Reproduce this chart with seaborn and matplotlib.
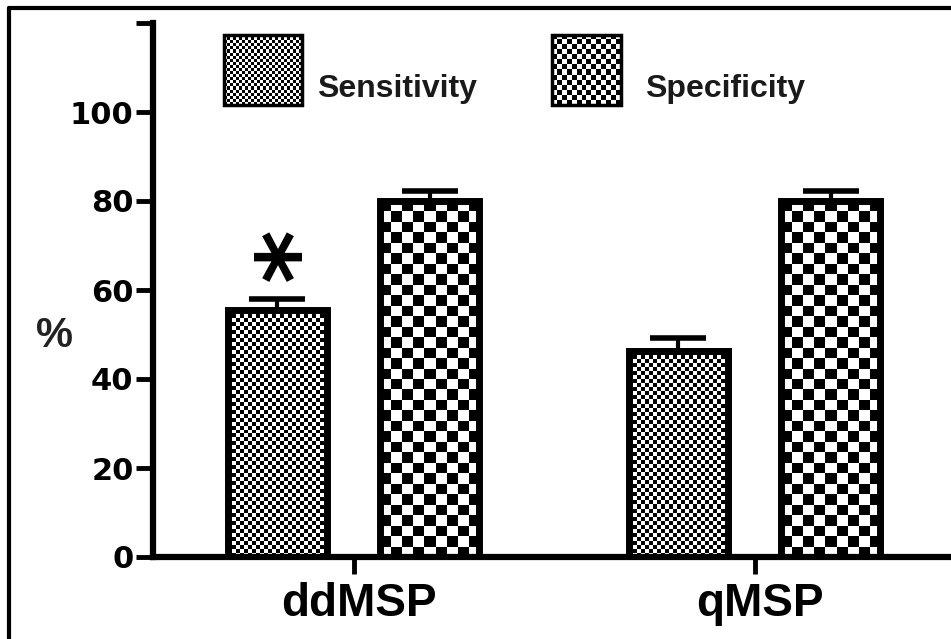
import numpy as np
import pandas as pd
import matplotlib
matplotlib.use('Agg')
import matplotlib.pyplot as plt
import seaborn as sns
from matplotlib.patches import Rectangle
from matplotlib.legend_handler import HandlerBase
from matplotlib.image import BboxImage
from matplotlib.transforms import Bbox, TransformedBbox, ScaledTranslation
from matplotlib.colors import Normalize
from matplotlib.lines import Line2D

# data
methods = ['ddMSP', 'qMSP']
measures = ['Sensitivity', 'Specificity']
sensitivity = [55.5, 46.2]
specificity = [80.0, 80.0]
sens_err = [2.5, 3.0]
spec_err = [2.3, 2.3]
yticks = [0, 20, 40, 60, 80, 100, 120]
ytick_labels = ['0', '20', '40', '60', '80', '100', '']

df = pd.DataFrame({
    'method': methods * 2,
    'measure': ['Sensitivity'] * 2 + ['Specificity'] * 2,
    'value': sensitivity + specificity,
})
errs = sens_err + spec_err

# checker cell size (pixels) for each pattern
bar_cells = {'Sensitivity': 4, 'Specificity': 10.5}
legend_cells = {'Sensitivity': 3, 'Specificity': 5}


def checker(ny, nx):
    return (np.add.outer(np.arange(ny), np.arange(nx)) % 2).astype(float)


sns.set_style('ticks')
plt.rcParams['font.family'] = ['Liberation Sans', 'DejaVu Sans']
plt.rcParams.update({'axes.edgecolor': 'black', 'text.color': 'black',
                     'axes.labelcolor': 'black', 'xtick.color': 'black',
                     'ytick.color': 'black'})

fig = plt.figure(figsize=(9.51, 6.39), dpi=100)
ax = fig.add_axes([153 / 951, 82 / 639, 1 - 153 / 951, 534 / 639])

sns.barplot(data=df, x='method', y='value', hue='measure', order=methods,
            hue_order=measures, palette=['white', 'white'], width=0.76, gap=0.35,
            edgecolor='black', linewidth=5, saturation=1, legend=False, ax=ax, zorder=3)

ax.set_xlim(-0.5, 1.49)
ax.set_ylim(0, 120)

# checker fill + upper error bars for each bar
for patch, meas, err in zip(ax.patches, df['measure'], errs):
    patch.set_facecolor('none')
    x0, w, h = patch.get_x(), patch.get_width(), patch.get_height()
    bb = patch.get_window_extent()
    nx = max(1, int(round(bb.width / bar_cells[meas])))
    ny = max(1, int(round(bb.height / bar_cells[meas])))
    ax.imshow(checker(ny, nx), extent=(x0, x0 + w, 0, h), cmap='gray', vmin=0, vmax=1,
              interpolation='nearest', aspect='auto', zorder=2)
    ax.errorbar(x0 + w / 2, h, yerr=[[0], [err]], fmt='none', ecolor='black',
                elinewidth=3, capsize=20, capthick=4, zorder=4)

ax.set_xlim(-0.5, 1.49)
ax.set_ylim(0, 120)

# significance star over ddMSP sensitivity (glyph sits off-centre, nudge right)
p0 = ax.patches[0]
ax.text(p0.get_x() + p0.get_width() / 2 + 0.06, 68, '*', rotation=90, ha='center',
        va='center', fontsize=74, fontweight='bold', family='DejaVu Sans', color='black')

sns.despine(ax=ax)
ax.spines['left'].set_linewidth(4.5)
ax.spines['bottom'].set_linewidth(4.5)
ax.set_yticks(yticks)
ax.set_yticklabels(ytick_labels)
ax.tick_params(axis='both', direction='out', length=12, width=3.5, colors='black')
ax.tick_params(axis='y', pad=2)
ax.tick_params(axis='x', pad=6)
for lbl in ax.get_yticklabels():
    lbl.set_fontfamily('DejaVu Sans')
    lbl.set_fontweight('bold')
    lbl.set_fontsize(22)
shift = ScaledTranslation(5 / 100, 0, fig.dpi_scale_trans)
for lbl in ax.get_xticklabels():
    lbl.set_fontweight('bold')
    lbl.set_fontsize(33)
    lbl.set_transform(lbl.get_transform() + shift)
ax.set_xlabel('')
ax.set_ylabel('%', rotation=0, fontsize=30, fontweight='bold', color='#222222',
              ha='center', va='center')
ax.yaxis.set_label_coords(-0.124, 0.414)


class CheckerHandler(HandlerBase):
    def __init__(self, cell, wscale=1.0, shift=0.0):
        super().__init__()
        self.cell, self.wscale, self.shift = cell, wscale, shift

    def create_artists(self, legend, orig_handle, xdescent, ydescent, width, height,
                       fontsize, trans):
        w = width * self.wscale
        px = fig.dpi / 72
        box = Bbox.from_bounds(-xdescent, -ydescent + self.shift, w, height)
        nx = max(1, int(round(w * px / self.cell)))
        ny = max(1, int(round(height * px / self.cell)))
        img = BboxImage(TransformedBbox(box, trans), cmap='gray', norm=Normalize(0, 1),
                        interpolation='nearest')
        img.set_data(checker(ny, nx))
        rect = Rectangle((-xdescent, -ydescent + self.shift), w, height, facecolor='none',
                         edgecolor='black', linewidth=2.5, transform=trans)
        return [img, rect]


h_sens = Rectangle((0, 0), 1, 1)
h_spec = Rectangle((0, 0), 1, 1)
leg = ax.legend([h_sens, h_spec], measures, ncol=2, frameon=False,
                prop={'weight': 'bold', 'size': 23},
                handlelength=2.44, handleheight=3.0, handletextpad=0.47, columnspacing=2.35,
                borderpad=0, borderaxespad=0, loc='upper left',
                bbox_to_anchor=(224 / 951, 1 - 53 / 639), bbox_transform=fig.transFigure,
                handler_map={h_sens: CheckerHandler(legend_cells['Sensitivity'], 1.0, 13),
                             h_spec: CheckerHandler(legend_cells['Specificity'], 0.885, 13)})
for t in leg.get_texts():
    t.set_color('#1a1a1a')

# frame lines of the original figure (left and top only)
fig.add_artist(Line2D([9 / 951, 9 / 951], [0, 1 - 8 / 639], transform=fig.transFigure,
                      color='black', lw=3))
fig.add_artist(Line2D([9 / 951, 1], [1 - 8 / 639, 1 - 8 / 639], transform=fig.transFigure,
                      color='black', lw=3))

fig.savefig('out.png', dpi=100)
